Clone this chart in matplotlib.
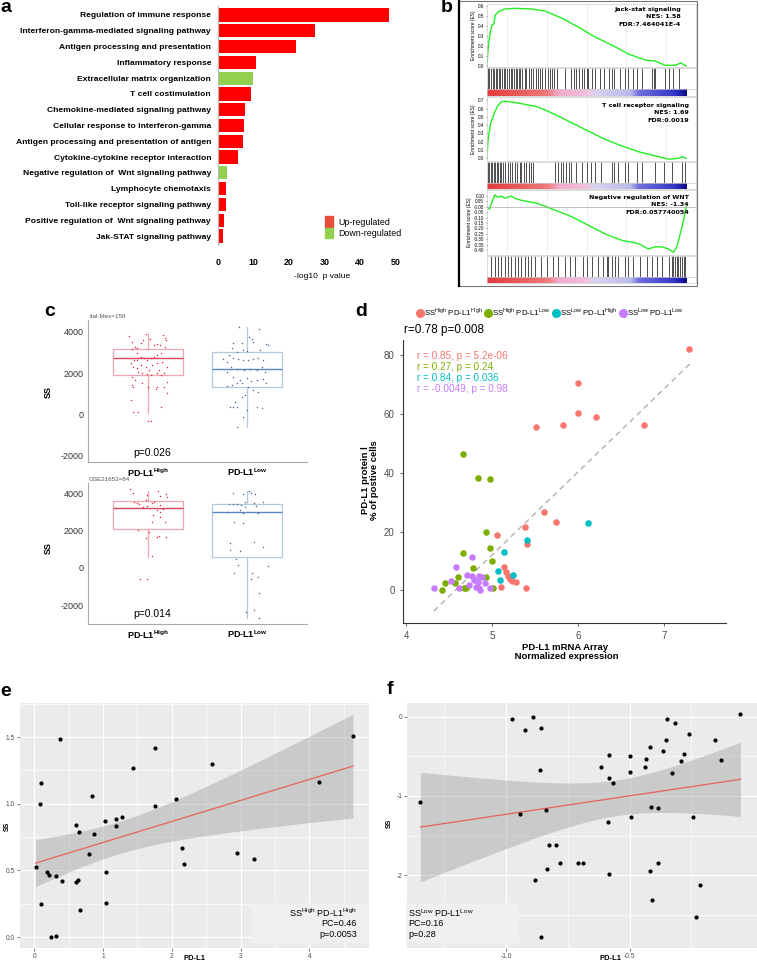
import numpy as np
import matplotlib
matplotlib.use('Agg')
import matplotlib.pyplot as plt
from matplotlib import font_manager
from matplotlib.patches import Rectangle, Patch
from matplotlib.lines import Line2D
from matplotlib.colors import LinearSegmentedColormap

plt.rcParams['font.family'] = ['Liberation Sans', 'DejaVu Sans']
plt.rcParams['mathtext.fontset'] = 'custom'
plt.rcParams['mathtext.rm'] = 'Liberation Sans'
plt.rcParams['mathtext.bf'] = 'Liberation Sans:bold'

# ---------------- data ----------------
# a: GO enrichment
go_terms = ['Regulation of immune response', 'Interferon-gamma-mediated signaling pathway',
            'Antigen processing and presentation', 'Inflammatory response',
            'Extracellular matrix organization', 'T cell costimulation',
            'Chemokine-mediated signaling pathway', 'Cellular response to interferon-gamma',
            'Antigen processing and presentation of antigen', 'Cytokine-cytokine receptor interaction',
            'Negative regulation of  Wnt signaling pathway', 'Lymphocyte chemotaxis',
            'Toll-like receptor signaling pathway', 'Positive regulation of  Wnt signaling pathway',
            'Jak-STAT signaling pathway']
go_logp = [48.1, 27.3, 22.0, 10.6, 9.9, 9.4, 7.6, 7.3, 7.0, 5.5, 2.4, 2.3, 2.2, 1.6, 1.5]
go_dir = ['up', 'up', 'up', 'up', 'down', 'up', 'up', 'up', 'up', 'up', 'down', 'up', 'up', 'up', 'up']

# b: GSEA running enrichment scores (rank as fraction of list)
es1_x = [0, 0.005, 0.010, 0.017, 0.025, 0.034, 0.042, 0.055, 0.089, 0.139, 0.223, 0.290, 0.374,
         0.458, 0.542, 0.626, 0.710, 0.794, 0.844, 0.894, 0.945, 0.973, 0.983, 1.0]
es1_y = [0, 0.16, 0.26, 0.34, 0.41, 0.42, 0.51, 0.54, 0.57, 0.577, 0.57, 0.55, 0.48, 0.39, 0.29,
         0.21, 0.12, 0.06, 0.05, 0.007, 0.007, 0.03, 0.02, 0.0]
es2_x = [0, 0.005, 0.010, 0.018, 0.030, 0.039, 0.055, 0.072, 0.089, 0.173, 0.257, 0.341, 0.424,
         0.508, 0.592, 0.676, 0.760, 0.844, 0.911, 0.961, 0.978, 1.0]
es2_y = [0, 0.22, 0.30, 0.42, 0.50, 0.56, 0.64, 0.68, 0.69, 0.66, 0.62, 0.53, 0.43, 0.33, 0.23,
         0.15, 0.08, 0.03, -0.01, 0.0, 0.02, 0.0]
es3_x = [0, 0.013, 0.022, 0.039, 0.055, 0.072, 0.089, 0.122, 0.139, 0.173, 0.257, 0.341, 0.424,
         0.508, 0.592, 0.676, 0.760, 0.810, 0.844, 0.877, 0.911, 0.936, 0.953, 0.970, 0.987, 1.0]
es3_y = [0, -0.02, 0.03, 0.11, 0.09, 0.10, 0.08, 0.10, 0.08, 0.06, 0.03, -0.03, -0.09, -0.17,
         -0.25, -0.31, -0.34, -0.39, -0.37, -0.37, -0.39, -0.42, -0.37, -0.25, -0.12, 0.0]
hits1 = [0.005, 0.012, 0.022, 0.030, 0.035, 0.045, 0.052, 0.060, 0.067, 0.076, 0.084, 0.092, 0.102,
         0.111, 0.119, 0.126, 0.136, 0.144, 0.153, 0.159, 0.168, 0.178, 0.190, 0.198, 0.210, 0.220,
         0.233, 0.245, 0.257, 0.267, 0.277, 0.290, 0.305, 0.317, 0.324, 0.336, 0.349, 0.391, 0.421,
         0.435, 0.445, 0.461, 0.475, 0.488, 0.500, 0.508, 0.529, 0.542, 0.569, 0.586, 0.612, 0.626,
         0.639, 0.669, 0.693, 0.706, 0.735, 0.752, 0.777, 0.827, 0.837, 0.844, 0.891, 0.911, 0.936,
         0.965]
hits2 = [0.005, 0.012, 0.018, 0.025, 0.034, 0.040, 0.049, 0.055, 0.064, 0.072, 0.082, 0.092, 0.106,
         0.116, 0.126, 0.139, 0.149, 0.164, 0.173, 0.186, 0.198, 0.210, 0.221, 0.233, 0.341, 0.357,
         0.371, 0.383, 0.399, 0.411, 0.424, 0.445, 0.475, 0.500, 0.522, 0.542, 0.570, 0.626, 0.639,
         0.659, 0.693, 0.710, 0.752, 0.777, 0.844, 0.886, 0.928, 0.978, 0.995]
hits3 = [0.022, 0.039, 0.055, 0.072, 0.089, 0.106, 0.122, 0.139, 0.156, 0.173, 0.190, 0.206, 0.223,
         0.240, 0.273, 0.299, 0.332, 0.357, 0.391, 0.416, 0.441, 0.483, 0.500, 0.525, 0.559, 0.584,
         0.601, 0.609, 0.626, 0.643, 0.659, 0.693, 0.710, 0.735, 0.768, 0.802, 0.827, 0.852, 0.878,
         0.911, 0.928, 0.936, 0.945, 0.953, 0.961, 0.970, 0.978, 0.987, 0.995]

# c: SS by PD-L1 group (box stats + jittered samples)
c1_stats = [dict(whislo=80, q1=1900, med=2710, q3=3160, whishi=3870),
            dict(whislo=-600, q1=1340, med=2180, q3=3000, whishi=4240)]
c2_stats = [dict(whislo=590, q1=2060, med=3220, q3=3600, whishi=4140),
            dict(whislo=-2690, q1=555, med=2970, q3=3400, whishi=4140)]
c1_high_ss = [3790, 3516, 3145, 3274, 3194, 3436, 3597, 3871, 3629, 3355, 3387, 3355, 3839, 3678, 3597,
              3274, 2952, 2871, 2790, 2710, 2629, 2710, 2790, 2952, 2629, 2468, 2306, 2226, 2387, 2306,
              2145, 2387, 2468, 2549, 2306, 1984, 1903, 1984, 1903, 1952, 2016, 2065, 1823, 1661, 1419,
              1306, 1500, 1339, 1339, 1210, 1306, 1581, 1016, 694, 97, 97, -323, -323, 371, 2145, 2629]
c1_high_jit = [-0.19, -0.16, -0.16, -0.13, -0.11, -0.07, -0.05, -0.02, 0.02, 0.06, 0.09, 0.12, 0.15, 0.17,
               0.18, 0.17, 0.13, 0.09, 0.06, 0.03, -0.01, -0.04, -0.07, -0.11, -0.14, -0.17, -0.15, -0.11,
               -0.07, -0.02, 0.01, 0.04, 0.09, 0.14, 0.19, 0.16, 0.13, 0.09, 0.03, -0.01, -0.06, -0.10,
               -0.16, -0.13, -0.16, -0.15, -0.06, 0.0, 0.09, 0.08, 0.16, 0.19, 0.19, -0.17, -0.15, -0.10,
               0.0, 0.03, 0.13, 0.11, -0.11]
c1_low_ss = [4240, 4129, 3758, 3629, 3436, 3436, 3484, 3387, 3355, 3194, 3032, 3113, 3081, 3113, 2871,
             2710, 2661, 2629, 2629, 2661, 2710, 2629, 2661, 2549, 2306, 2177, 2145, 2177, 2145, 2306,
             2065, 2065, 1823, 1661, 1742, 1629, 1661, 1693, 1500, 1419, 1500, 1500, 1371, 1306, 1177,
             1097, 936, 855, 613, 371, 339, 371, 339, 290, 210, -113, -597]
c1_low_jit = [-0.083, 0.12, 0.02, 0.046, -0.139, -0.056, 0.06, 0.19, 0.21, -0.156, -0.106, -0.04, -0.007,
              0.126, -0.18, -0.139, -0.09, -0.04, 0.01, 0.06, 0.11, 0.16, -0.24, -0.206, -0.166, -0.106,
              -0.033, 0.027, 0.093, 0.143, 0.176, -0.206, -0.139, -0.073, -0.007, 0.033, 0.093, 0.16,
              0.19, -0.156, -0.106, -0.056, -0.206, 0.01, 0.06, 0.11, -0.023, -0.056, -0.123, -0.173,
              -0.139, -0.106, 0.093, 0.143, 0.0, -0.046, -0.106]
c2_high_ss = [4207, 3992, 4135, 3849, 3956, 3813, 3902, 3634, 3455, 3544, 3401, 3455, 3544, 3365, 3311,
              3240, 3097, 3007, 3133, 2828, 2739, 2470, 2470, 2023, 1933, 1665, 1701, 1665, 1575, 627,
              -627, -627]
c2_high_jit = [-0.174, -0.148, 0.105, 0.122, 0.181, 0.194, -0.003, -0.016, -0.108, -0.141, -0.089, 0.039,
               0.066, 0.122, -0.01, -0.049, 0.089, 0.122, 0.154, 0.056, 0.122, 0.039, 0.171, -0.102,
               0.016, 0.089, 0.115, 0.181, -0.016, 0.039, -0.082, -0.003]
c2_low_ss = [4028, 3956, 4135, 3992, 3956, 3544, 3490, 3544, 3401, 3419, 3401, 3365, 3276, 3311, 3007,
             3097, 2918, 2918, 2470, 2416, 1396, 1128, 1343, 949, 913, 447, 143, 90, -304, -304, -609,
             -483, -1343, -2399, -2273, -2685]
c2_low_jit = [-0.148, -0.043, 0.016, 0.039, 0.082, -0.026, 0.066, 0.161, -0.181, -0.141, -0.099, -0.059,
              -0.026, 0.089, -0.191, -0.076, -0.043, 0.105, -0.135, -0.043, 0.066, 0.155, -0.174, -0.174,
              -0.076, -0.109, -0.092, 0.204, -0.135, 0.049, 0.033, 0.105, 0.115, -0.01, 0.066, 0.115]

# d: PD-L1 protein vs mRNA
d_groups = ['SS$^{\\mathrm{High}}$ PD-L1$^{\\mathrm{High}}$', 'SS$^{\\mathrm{High}}$ PD-L1$^{\\mathrm{Low}}$',
            'SS$^{\\mathrm{Low}}$ PD-L1$^{\\mathrm{High}}$', 'SS$^{\\mathrm{Low}}$ PD-L1$^{\\mathrm{Low}}$']
d_stats = ['r = 0.85, p = 5.2e-06', 'r = 0.27, p = 0.24', 'r = 0.84, p = 0.036', 'r = -0.0049, p = 0.98']
d_x = [[7.29, 6.0, 6.0, 6.21, 5.51, 5.82, 6.77, 5.60, 5.74, 5.38, 5.05, 5.40, 5.14, 5.16, 5.18, 5.21,
        5.27, 5.23, 5.10, 5.39],
       [4.655, 4.837, 4.969, 4.926, 4.969, 4.655, 4.996, 4.779, 4.930, 4.60, 4.45, 4.56, 4.41, 4.667,
        4.694, 5.008],
       [6.112, 5.403, 5.132, 5.07, 5.085, 5.236],
       [4.32, 4.578, 4.767, 4.515, 4.709, 4.764, 4.84, 4.88, 4.79, 4.83, 4.91, 4.73, 4.81, 4.84, 4.86,
        4.61, 4.97]]
d_y = [[82.1, 70.5, 60.2, 59.0, 55.7, 56.1, 56.1, 26.7, 23.2, 21.7, 19.0, 15.7, 7.8, 6.4, 5.0, 3.8, 2.8,
        3.3, 1.0, 0.9],
       [46.5, 38.1, 37.8, 20.0, 14.3, 12.6, 10.1, 7.6, 4.6, 4.5, 2.6, 2.5, 0.2, 0.8, 0.7, 0.7],
       [23.0, 17.3, 13.2, 6.6, 3.4, 5.4],
       [0.8, 7.9, 11.3, 3.3, 5.2, 4.8, 4.8, 4.5, 3.6, 2.8, 2.5, 1.7, 1.0, 0.7, 0.0, 0.8, 0.7]]
d_fit_x = [4.32, 7.30]
d_fit_y = [-7.0, 77.0]

# e: SS-high / PD-L1-high
e_x = [4.635, 0.378, 1.75, 2.59, 1.435, 0.10, 4.145, 0.834, 2.06, 0.078, 1.755, 1.275, 1.193, 1.028,
       0.606, 1.193, 0.645, 0.868, 2.153, 2.95, 0.79, 3.19, 2.18, 0.019, 0.18, 1.04, 0.208, 0.31, 0.63,
       0.61, 0.40, 0.097, 1.04, 0.66, 0.315, 0.238]
e_y = [1.505, 1.488, 1.42, 1.295, 1.27, 1.155, 1.16, 1.055, 1.035, 0.998, 0.983, 0.90, 0.888, 0.87,
       0.843, 0.835, 0.788, 0.77, 0.67, 0.633, 0.625, 0.585, 0.55, 0.523, 0.488, 0.49, 0.465, 0.455,
       0.43, 0.41, 0.42, 0.248, 0.253, 0.203, 0.01, 0.0]

# f: SS-low / PD-L1-low
f_x = [-0.976, -0.889, -0.922, -0.860, -0.052, -0.350, -0.315, -0.259, -0.156, -0.353, -0.416, -0.365,
       -0.584, -0.499, -0.434, -0.280, -0.291, -0.129, -0.615, -0.438, -0.500, -0.864, -0.327, -0.585,
       -0.569, -1.346, -0.945, -0.837, -0.589, -0.496, -0.415, -0.385, -0.243, -0.826, -0.796, -0.780,
       -0.832, -0.708, -0.687, -0.582, -0.416, -0.385, -0.883, -0.216, -0.408, -0.233, -0.858]
f_y = [-0.03, -0.01, -0.17, -0.15, 0.03, -0.03, -0.086, -0.22, -0.30, -0.30, -0.39, -0.44, -0.48, -0.50,
       -0.54, -0.47, -0.56, -0.55, -0.64, -0.64, -0.70, -0.67, -0.71, -0.78, -0.84, -1.078, -1.224,
       -1.184, -1.335, -1.265, -1.135, -1.159, -1.261, -1.624, -1.624, -1.841, -1.918, -1.841, -1.841,
       -1.98, -1.947, -1.849, -2.061, -2.127, -2.318, -2.527, -2.784]

# ---------------- layout helpers ----------------
W, H = 757, 963
fig = plt.figure(figsize=(W / 100, H / 100), dpi=100)


def fx(x):
    return x / W


def fy(y):
    return 1 - y / H


def add_box(x0, y0, x1, y1):
    return fig.add_axes([x0 / W, 1 - y1 / H, (x1 - x0) / W, (y1 - y0) / H])


def panel_letter(x, y, s):
    fig.text(fx(x), fy(y), s, fontsize=14, fontweight='bold', va='center', ha='left')


has_narrow = any('Narrow' in f.name for f in font_manager.fontManager.ttflist)
narrow = ['Liberation Sans Narrow', 'Liberation Sans'] if has_narrow else ['Liberation Sans']

# ---------------- a ----------------
ax = add_box(218, 6, 400, 245)
ypos = np.arange(len(go_terms))
bar_cols = ['#ff0000' if d == 'up' else '#92d050' for d in go_dir]
ax.barh(ypos, go_logp, height=0.84, color=bar_cols)
ax.set_ylim(14.57, -0.57)
ax.set_xlim(0, 51.3)
ax.set_yticks(ypos)
ax.set_yticklabels(go_terms, fontsize=7, fontweight='bold', family=narrow)
# shrink the term labels until the longest one is as wide as in the original
r = fig.canvas.get_renderer()
w_long = ax.get_yticklabels()[8].get_window_extent(r).width
a_fs = 7 * 194 / w_long
for lab in ax.get_yticklabels():
    lab.set_fontsize(a_fs)
ax.set_xticks([0, 10, 20, 30, 40, 50])
ax.set_xticklabels(['0', '10', '20', '30', '40', '50'], fontsize=a_fs + 0.3, fontweight='bold',
                   family=narrow)
ax.tick_params(length=0, pad=5)
ax.tick_params(axis='x', pad=9)
for s in ['top', 'right', 'bottom']:
    ax.spines[s].set_visible(False)
ax.spines['left'].set_color('#b8b8b8')
fig.text(fx(322), fy(276), '-log10  p value', fontsize=a_fs, ha='center', va='center', family=narrow)
fig.legend(handles=[Patch(color='#e84c3d'), Patch(color='#92d050')],
           labels=['Up-regulated', 'Down-regulated'], loc='upper left',
           bbox_to_anchor=(fx(321), fy(212)), frameon=False,
           handlelength=0.9, handleheight=1.4, handletextpad=0.5, labelspacing=0.1,
           borderpad=0, prop={'family': narrow, 'size': a_fs + 0.3})
panel_letter(0, 7, 'a')

# ---------------- b ----------------
panel_letter(441, 7, 'b')
fig.add_artist(Rectangle((fx(458), fy(286)), fx(697) - fx(458), fy(1) - fy(286),
                         transform=fig.transFigure, fill=False, edgecolor='#777777', lw=0.8))
fig.add_artist(Line2D([fx(459), fx(459)], [fy(0), fy(286)], transform=fig.transFigure,
                      color='black', lw=1.6))

rank_cmap = LinearSegmentedColormap.from_list(
    'rank', [(0, '#e23b3b'), (0.3, '#f07a7a'), (0.36, '#f3aacb'), (0.5, '#f2c2dc'),
             (0.54, '#d9d4ef'), (0.72, '#b9b9ec'), (0.76, '#6f6fdc'), (0.94, '#3535c8'), (1, '#0b0b8a')])

gsea = [
    ((4, 67), (68, 89), (89, 96), es1_x, es1_y, hits1, np.arange(0, 0.61, 0.1), (-0.01, 0.62), '{:.1f}',
     ['Jack-stat signaling', 'NES: 1.58', 'FDR:7.464041E-4'], 681, [10, 16.8, 24.5]),
    ((97, 161), (162, 183), (183, 189), es2_x, es2_y, hits2, np.arange(0, 0.71, 0.1), (-0.032, 0.74), '{:.1f}',
     ['T cell receptor signaling', 'NES: 1.69', 'FDR:0.0019'], 689, [106, 112.8, 120.5]),
    ((190, 255), (256, 277), (277, 283), es3_x, es3_y, hits3, np.arange(-0.40, 0.11, 0.05), (-0.446, 0.156),
     '{:.2f}', ['Negative regulation of WNT', 'NES: -1.34', 'FDR:0.057740054'], 689, [197, 204.8, 212.5]),
]
for es_y, bc_y, col_y, xs, ys, hits, yt, ylim, fmt, lines, tx, tys in gsea:
    a1 = add_box(487, es_y[0], 696, es_y[1])
    a1.plot(xs, ys, color='#22ee22', lw=1.0)
    a1.set_yticks(yt)
    a1.set_yticklabels([fmt.format(v) for v in yt], fontsize=3.3)
    a1.set_xticks(np.arange(0.1, 1.0, 0.2))
    a1.set_xticklabels([])
    a1.set_xlim(0, 1.049)
    a1.set_ylim(*ylim)
    a1.tick_params(axis='x', length=0)
    a1.tick_params(axis='y', length=1, width=0.4, pad=1)
    a1.grid(axis='x', color='#e4e4e4', lw=0.4)
    if ylim[0] < -0.1:
        a1.axhline(0, color='#aaaaaa', lw=0.5)
    for sp in a1.spines.values():
        sp.set_color('#cccccc')
        sp.set_linewidth(0.5)
    a1.set_ylabel('Enrichment score (ES)', fontsize=3.5, labelpad=1)
    for s, ty in zip(lines, tys):
        fig.text(fx(tx), fy(ty), s, fontsize=4.6, fontweight='bold', ha='right', va='center',
                 family='DejaVu Sans')

    a2 = add_box(487, bc_y[0], 696, bc_y[1])
    a2.vlines(hits, 0, 1, color='#222222', lw=0.7, alpha=0.8)
    a2.set_xlim(0, 1.049)
    a2.set_ylim(0, 1)
    a2.set_xticks([])
    a2.set_yticks([])
    for sp in a2.spines.values():
        sp.set_color('#cccccc')
        sp.set_linewidth(0.5)

    a3 = add_box(487, col_y[0], 696, col_y[1])
    a3.imshow(np.linspace(0, 1, 256)[None, :], cmap=rank_cmap, aspect='auto', extent=(0, 1, 0, 1))
    a3.set_xlim(0, 1.049)
    a3.set_ylim(0, 1)
    a3.set_xticks([])
    a3.set_yticks([])
    for sp in a3.spines.values():
        sp.set_color('#cccccc')
        sp.set_linewidth(0.5)

# ---------------- c ----------------
panel_letter(44, 311, 'c')
c_panels = [
    ((320, 462), c1_stats, [(c1_high_ss, c1_high_jit), (c1_low_ss, c1_low_jit)], (-2305, 4567),
     'Ital-Mex=158', 'p=0.026', 453, 392),
    ((483, 624), c2_stats, [(c2_high_ss, c2_high_jit), (c2_low_ss, c2_low_jit)], (-3020, 4553),
     'GSE21653=84', 'p=0.014', 614, 548),
]
box_edge = ['#f0a7b2', '#b4c8e0']
box_med = ['#d9465f', '#5a86bd']
dot_col = ['#e0303f', '#4d6a9a']
for (y0, y1), stats, pts, ylim, title, ptxt, py, sy in c_panels:
    ac = add_box(88, y0, 307, y1)
    for i, st in enumerate(stats):
        st = dict(st)
        st['fliers'] = []
        ac.bxp([st], positions=[i + 1], widths=0.7, showfliers=False, patch_artist=True,
               boxprops=dict(facecolor='white', edgecolor=box_edge[i], lw=0.9),
               whiskerprops=dict(color=box_edge[i], lw=0.9), capprops=dict(lw=0),
               medianprops=dict(color=box_med[i], lw=1.0))
        vals, jit = pts[i]
        ac.scatter(np.array(jit) + i + 1, vals, s=1.2, color=dot_col[i], zorder=3, lw=0)
    ac.set_yticks([-2000, 0, 2000, 4000])
    ac.set_yticklabels(['-2000', '0', '2000', '4000'], fontsize=6.5, color='#333333')
    ac.set_xticks([1, 2])
    ac.set_xticklabels(['PD-L1$^{\\mathbf{High}}$', 'PD-L1$^{\\mathbf{Low}}$'], fontsize=6.5,
                       fontweight='bold')
    ac.set_xlim(0.4, 2.6)
    ac.set_ylim(*ylim)
    ac.tick_params(length=0, pad=3)
    for s in ['top', 'right']:
        ac.spines[s].set_visible(False)
    for s in ['left', 'bottom']:
        ac.spines[s].set_color('#aaaaaa')
    fig.text(fx(89), fy(y0 - 4), title, fontsize=4.5, color='#555555', va='center')
    fig.text(fx(152), fy(py), ptxt, fontsize=7.5, ha='center', va='center')
    fig.text(fx(48), fy(sy), 'SS', fontsize=6.5, fontweight='bold', rotation=90, ha='center', va='center')

# ---------------- d ----------------
panel_letter(355, 311, 'd')
d_cols = ['#f8766d', '#7cae00', '#00bfc4', '#c77cff']
ad = add_box(403, 340, 726, 623)
ad.plot(d_fit_x, d_fit_y, ls=(0, (4, 3)), color='#b0b0b0', lw=1.0, zorder=1)
for xs, ys, c in zip(d_x, d_y, d_cols):
    ad.scatter(xs, ys, s=22, color=c, lw=0, zorder=3)
ad.set_xticks([4, 5, 6, 7])
ad.set_yticks([0, 20, 40, 60, 80])
ad.set_xlim(3.96, 7.72)
ad.set_ylim(-11.07, 85.1)
ad.tick_params(labelsize=7, colors='#4d4d4d', length=2.5, width=0.6)
for s in ['top', 'right']:
    ad.spines[s].set_visible(False)
for s in ['left', 'bottom']:
    ad.spines[s].set_color('#333333')
    ad.spines[s].set_linewidth(0.8)
for k, (txt, c) in enumerate(zip(d_stats, d_cols)):
    fig.text(fx(417), fy(356 + k * 10.9), txt, color=c, fontsize=7.2, va='center')
fig.text(fx(404), fy(330), 'r=0.78 p=0.008', fontsize=8.5, va='center')
fig.text(fx(565), fy(652), 'PD-L1 mRNA Array\n Normalized expression', fontsize=6.8, fontweight='bold',
         ha='center', va='center', linespacing=1.1)
fig.text(fx(370), fy(480), 'PD-L1 protein l\n% of postive cells', fontsize=6.8, fontweight='bold',
         ha='center', va='center', rotation=90, linespacing=1.1)
ad.legend(handles=[Line2D([], [], marker='o', ls='', color=c, ms=5.5) for c in d_cols], labels=d_groups,
          ncol=4, loc='center left', bbox_to_anchor=(fx(416), fy(312)), bbox_transform=fig.transFigure,
          frameon=False, fontsize=5.6, handletextpad=0.0, columnspacing=0.25, handlelength=1.0,
          borderpad=0, borderaxespad=0)


# ---------------- e / f ----------------
def lm_band(x, y, xs, t=2.03):
    x = np.asarray(x)
    y = np.asarray(y)
    slope, icpt = np.polyfit(x, y, 1)
    n = len(x)
    resid = y - (icpt + slope * x)
    s = np.sqrt(np.sum(resid ** 2) / (n - 2))
    se = s * np.sqrt(1 / n + (xs - x.mean()) ** 2 / np.sum((x - x.mean()) ** 2))
    fit = icpt + slope * xs
    return fit, fit - t * se, fit + t * se


def gg_axes(x0, x1, xlim, ylim, xmaj, ymaj, xlabels, ylabels):
    a = add_box(x0, 703, x1, 948)
    a.set_facecolor('#ebebeb')
    a.set_xticks(xmaj)
    a.set_xticklabels(xlabels)
    a.set_yticks(ymaj)
    a.set_yticklabels(ylabels)
    xmin = [(xmaj[i] + xmaj[i + 1]) / 2 for i in range(len(xmaj) - 1)]
    xmin = [xmaj[0] - (xmaj[1] - xmaj[0]) / 2] + xmin + [xmaj[-1] + (xmaj[1] - xmaj[0]) / 2]
    ymin = [(ymaj[i] + ymaj[i + 1]) / 2 for i in range(len(ymaj) - 1)]
    ymin = [ymaj[0] - (ymaj[1] - ymaj[0]) / 2] + ymin + [ymaj[-1] + (ymaj[1] - ymaj[0]) / 2]
    a.set_xticks(xmin, minor=True)
    a.set_yticks(ymin, minor=True)
    # limits go last: setting ticks would otherwise widen them
    a.set_xlim(*xlim)
    a.set_ylim(*ylim)
    a.grid(which='major', color='white', lw=0.9)
    a.grid(which='minor', color='white', lw=0.45)
    a.set_axisbelow(True)
    a.tick_params(which='major', labelsize=4.8, colors='#4d4d4d', length=2, width=0.5, pad=1.5)
    a.tick_params(which='minor', length=0)
    for sp in a.spines.values():
        sp.set_visible(False)
    return a


panel_letter(0, 691, 'e')
ae = gg_axes(20, 369, (-0.208, 4.868), (-0.0825, 1.755), [0, 1, 2, 3, 4], [0.0, 0.5, 1.0, 1.5],
             ['0', '1', '2', '3', '4'], ['0.0', '0.5', '1.0', '1.5'])
xs = np.linspace(min(e_x), max(e_x), 100)
fit, lo, hi = lm_band(e_x, e_y, xs)
ae.fill_between(xs, lo, hi, color='#999999', alpha=0.4, lw=0, zorder=2)
ae.plot(xs, fit, color='#e8625a', lw=0.9, zorder=3)
ae.scatter(e_x, e_y, s=9, color='black', zorder=4, lw=0)
fig.add_artist(Rectangle((fx(252), fy(943)), fx(368) - fx(252), fy(903) - fy(943),
                         transform=fig.transFigure, color='#f0f0f0', lw=0))
fig.text(fx(357), fy(913), 'SS$^{\\mathrm{High}}$ PD-L1$^{\\mathrm{High}}$', fontsize=6.5, ha='right',
         va='center')
fig.text(fx(357), fy(923), 'PC=0.46', fontsize=6.5, ha='right', va='center')
fig.text(fx(357), fy(934), 'p=0.0053', fontsize=6.5, ha='right', va='center')
fig.text(fx(7), fy(826), 'SS', fontsize=5, fontweight='bold', rotation=90, ha='center', va='center')
fig.text(fx(195), fy(958), 'PD-L1', fontsize=5.5, fontweight='bold', ha='center', va='center')

panel_letter(387, 690, 'f')
af = gg_axes(407, 757, (-1.40, 0.015), (-2.918, 0.171), [-1.0, -0.5], [-2, -1, 0],
             ['-1.0', '-0.5'], ['-2', '-1', '0'])
xs = np.linspace(min(f_x), max(f_x), 100)
fit, lo, hi = lm_band(f_x, f_y, xs)
af.fill_between(xs, lo, hi, color='#999999', alpha=0.4, lw=0, zorder=2)
af.plot(xs, fit, color='#e8625a', lw=0.9, zorder=3)
af.scatter(f_x, f_y, s=9, color='black', zorder=4, lw=0)
fig.add_artist(Rectangle((fx(406), fy(943)), fx(519) - fx(406), fy(903) - fy(943),
                         transform=fig.transFigure, color='#f0f0f0', lw=0))
fig.text(fx(408), fy(913), 'SS$^{\\mathrm{Low}}$ PD-L1$^{\\mathrm{Low}}$', fontsize=6.5, ha='left',
         va='center')
fig.text(fx(408), fy(923), 'PC=0.16', fontsize=6.5, ha='left', va='center')
fig.text(fx(408), fy(934), 'p=0.28', fontsize=6.5, ha='left', va='center')
fig.text(fx(389), fy(823), 'SS', fontsize=5, fontweight='bold', rotation=90, ha='center', va='center')
fig.text(fx(610), fy(958), 'PD-L1', fontsize=5.5, fontweight='bold', ha='center', va='center')

fig.savefig('out.png', dpi=100)
